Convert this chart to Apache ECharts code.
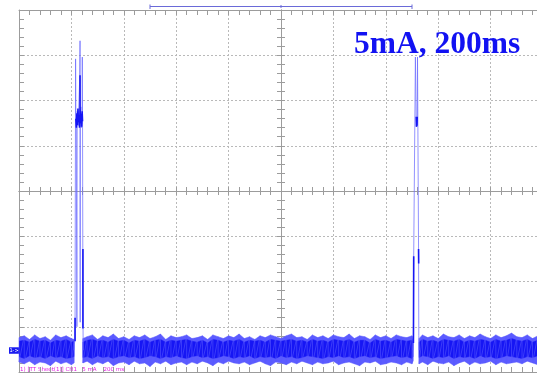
<!DOCTYPE html>
<html><head><meta charset="utf-8">
<script src="https://cdn.jsdelivr.net/npm/echarts@6/dist/echarts.min.js"></script>
<style>html,body{margin:0;padding:0;background:#fff}#c{width:537px;height:373px}</style>
</head><body><div id="c"></div>
<script>
// ---- axes (oscilloscope screen: 200 ms/div, 5 mA/div, centre = trigger) ----
const timeMin = -1000, timeMax = 1000, timeStep = 200;      // ms
const currentMin = -20, currentMax = 20, currentStep = 5;   // mA
const channelOffset = -17.6;                                // mA, CH1 ground marker
const windowBar = [-500, 500];                              // ms, top window bar
const titleText = '5mA, 200ms';
const footerText = '1) [TT Sheet(1)] CH1   5 mA    200 ms';

// ---- baseline noise envelope (null = gap during pulse) ----
const noiseTime = [
  -1000,-980,-960,-940,-920,-900,-880,-860,-840,-820, -800,-790,
  -775,
  -756,-740,-720,-700,-680,-660,-640,-620,-600,-580,
  -560,-540,-520,-500,-480,-460,-440,-420,-400,-380,
  -360,-340,-320,-300,-280,-260,-240,-220,-200,-180,
  -160,-140,-120,-100,-80,-60,-40,-20,0,20,
  40,60,80,100,120,140,160,180,200,220,
  240,260,280,300,320,340,360,380,400,420,
  440,460,480,500,504,
  515,
  527,540,560,580,600,620,640,660,680,700,
  720,740,760,780,800,820,840,860,880,900,
  920,940,960,980,1000
];
const noiseOuterHigh = [
  -16.2,-16.0,-16.4,-15.9,-16.3,-16.1,-16.5,-15.9,-16.2,-16.0, -16.3,-16.4,
  null,
  -16.3,-16.1,-15.9,-16.4,-16.0,-16.2,-15.8,-16.3,-16.1,-16.4,
  -16.0,-16.2,-15.9,-16.3,-16.1,-15.8,-16.4,-16.0,-16.2,-16.1,
  -15.9,-16.3,-16.2,-16.0,-16.4,-15.9,-16.1,-16.3,-16.0,-16.2,
  -15.8,-16.3,-16.1,-16.4,-16.0,-16.2,-15.9,-16.1,-16.3,-16.0,
  -15.8,-16.2,-16.1,-16.4,-15.9,-16.2,-16.0,-16.3,-15.9,-16.1,
  -16.2,-15.8,-16.3,-16.0,-16.1,-16.4,-15.9,-16.2,-16.0,-16.3,
  -15.9,-16.1,-16.2,-16.0,-16.4,
  null,
  -16.3,-15.9,-16.2,-16.0,-16.3,-15.8,-16.1,-16.2,-15.9,-16.3,
  -16.0,-16.2,-15.8,-16.1,-16.3,-15.9,-16.2,-16.0,-15.7,-16.1,
  -16.2,-15.9,-16.3,-16.0,-16.2
];
const noiseInnerHigh = [
  -16.6,-16.5,-16.7,-16.4,-16.6,-16.5,-16.8,-16.5,-16.6,-16.4, -16.7,-16.6,
  null,
  -16.7,-16.5,-16.4,-16.6,-16.5,-16.7,-16.4,-16.6,-16.5,-16.8,
  -16.5,-16.6,-16.4,-16.7,-16.5,-16.4,-16.7,-16.5,-16.6,-16.5,
  -16.4,-16.6,-16.7,-16.5,-16.8,-16.4,-16.5,-16.7,-16.5,-16.6,
  -16.4,-16.7,-16.5,-16.6,-16.5,-16.7,-16.4,-16.5,-16.6,-16.5,
  -16.4,-16.6,-16.5,-16.7,-16.4,-16.6,-16.5,-16.7,-16.4,-16.5,
  -16.6,-16.4,-16.7,-16.5,-16.5,-16.8,-16.4,-16.6,-16.5,-16.7,
  -16.4,-16.5,-16.6,-16.5,-16.7,
  null,
  -16.7,-16.4,-16.6,-16.5,-16.7,-16.4,-16.5,-16.6,-16.4,-16.7,
  -16.5,-16.6,-16.4,-16.5,-16.7,-16.4,-16.6,-16.5,-16.3,-16.5,
  -16.6,-16.4,-16.7,-16.5,-16.6
];
const noiseInnerLow = [
  -18.3,-18.5,-18.2,-18.4,-18.3,-18.5,-18.2,-18.4,-18.3,-18.5, -18.4,-18.3,
  null,
  -18.4,-18.3,-18.5,-18.2,-18.4,-18.3,-18.5,-18.3,-18.2,-18.4,
  -18.3,-18.5,-18.4,-18.2,-18.3,-18.5,-18.3,-18.4,-18.2,-18.4,
  -18.5,-18.3,-18.2,-18.4,-18.3,-18.5,-18.4,-18.2,-18.3,-18.5,
  -18.3,-18.4,-18.2,-18.5,-18.3,-18.4,-18.3,-18.5,-18.2,-18.4,
  -18.3,-18.5,-18.4,-18.2,-18.3,-18.4,-18.5,-18.3,-18.4,-18.2,
  -18.4,-18.3,-18.5,-18.3,-18.2,-18.4,-18.3,-18.5,-18.4,-18.3,
  -18.2,-18.4,-18.3,-18.5,-18.3,
  null,
  -18.4,-18.2,-18.3,-18.5,-18.3,-18.4,-18.2,-18.5,-18.3,-18.4,
  -18.3,-18.5,-18.2,-18.4,-18.3,-18.5,-18.4,-18.2,-18.3,-18.4,
  -18.5,-18.3,-18.4,-18.2,-18.4
];
const noiseOuterLow = [
  -18.9,-19.1,-18.8,-19.2,-18.9,-19.0,-19.3,-18.8,-19.1,-18.9, -19.2,-19.0,
  null,
  -19.0,-18.8,-19.2,-18.9,-19.1,-18.8,-19.3,-19.0,-18.9,-19.2,
  -18.8,-19.1,-19.0,-19.4,-18.9,-19.1,-18.8,-19.2,-19.0,-18.9,
  -19.2,-18.9,-19.1,-18.8,-19.0,-19.3,-18.9,-19.1,-18.8,-19.0,
  -19.1,-18.9,-19.2,-19.0,-18.8,-19.1,-19.3,-18.9,-19.0,-19.2,
  -18.9,-19.1,-18.8,-19.0,-19.2,-18.9,-19.1,-19.0,-18.8,-19.2,
  -19.0,-18.9,-19.1,-19.3,-18.9,-19.0,-18.8,-19.2,-19.1,-18.9,
  -19.0,-19.2,-18.9,-19.1,-18.8,
  null,
  -19.1,-18.9,-19.2,-18.8,-19.0,-19.1,-18.9,-19.3,-19.0,-18.8,
  -19.2,-18.9,-19.1,-19.0,-18.8,-19.2,-18.9,-19.1,-19.0,-18.9,
  -19.1,-18.8,-19.0,-19.2,-18.9
];

// ---- pulse traces (fast, light trace) ----
const pulse1Time    = [-790,-787.5,-786,-784,-783,-781.5,-779,-778,-775,-772,-768,-767,-766.5,-766,-764,-762,-761,-760,-759,-758.4,-757.5,-756.5,-755.5,-755];
const pulse1Current = [-17.6,-16.6,-14.0,14.6,8.5,7.2,-15.0,8.8,7.2,9.0,12.8,16.6,-14.5,8.0,9.3,7.0,8.6,7.4,8.9,14.8,7.5,-6.4,-15.2,-17.6];
const pulse2Time    = [504,505.5,506.5,513,514,516,518,520,521,523,525,526,527];
const pulse2Current = [-17.6,-16.8,-7.2,14.8,14.8,8.0,7.1,8.2,14.8,14.8,-6.4,-16.0,-17.6];
// ---- dense (bright) parts of the pulses, null = break ----
const coreTime    = [-786,-786,null,-783,-781,-779,-777,-775,-773,-771,-769,-767,-765,-763,-761,-759,-757.5,null,-767,-767,null,-756,-756,null,
                     505.5,506.5,null,516,517,518,519,520,null,525,525.5];
const coreCurrent = [-16.6,-14.0,null,8.0,7.0,8.6,7.3,9.1,7.6,8.4,7.0,9.2,7.5,8.5,7.1,8.8,7.7,null,9.0,12.8,null,-6.4,-15.2,null,
                     -16.8,-7.2,null,8.2,7.1,8.0,7.2,8.2,null,-6.4,-8.0];

const zip = (a, b) => a.map((t, i) => [t, b[i] == null || t == null ? null : b[i]]);
// trace that swings between the two noise envelopes at each sample time
const swing = (hi, lo) => noiseTime.flatMap((t, i) => hi[i] == null ? [[t, null]] : [[t, hi[i]], [t, lo[i]]]);

const GRAY = '#9c9c9c';
const grid = { left: 19, top: 10, width: 524, height: 362, outerBoundsMode: 'none', containLabel: false };

function borderAxis(isX, pos, withSplit) {
  return {
    type: 'value', position: pos,
    min: isX ? timeMin : currentMin, max: isX ? timeMax : currentMax,
    interval: isX ? timeStep : currentStep,
    axisLine: { show: true, onZero: false, lineStyle: { color: GRAY, width: 1 } },
    axisTick: { show: true, inside: true, length: 5, lineStyle: { color: GRAY } },
    minorTick: { show: true, splitNumber: 5, length: 5, lineStyle: { color: GRAY } },
    axisLabel: { show: false },
    splitLine: { show: withSplit, lineStyle: { color: '#b9b9b9', type: [2, 2], width: 1 } },
    minorSplitLine: { show: false }
  };
}
function centerAxis(isX, pos, inside) {
  return {
    type: 'value', position: pos,
    min: isX ? timeMin : currentMin, max: isX ? timeMax : currentMax,
    interval: isX ? timeStep : currentStep,
    axisLine: { show: true, onZero: true, onZeroAxisIndex: 0, lineStyle: { color: GRAY, width: 1 } },
    axisTick: { show: true, inside: inside, length: 4, lineStyle: { color: GRAY } },
    minorTick: { show: true, splitNumber: 5, length: 4, lineStyle: { color: GRAY } },
    axisLabel: { show: false },
    splitLine: { show: false }
  };
}

// band between two envelopes, drawn once through the grid's coordinate system
function bandSeries(name, hiArr, loArr, color) {
  return {
    type: 'custom', name: name, silent: true, clip: true,
    data: noiseTime.map((t, i) => [t, hiArr[i] == null ? null : hiArr[i]]),
    encode: { x: 0, y: 1 },
    renderItem: function (params, api) {
      if (params.dataIndex !== 0) return null;
      const children = [];
      let seg = [];
      const flush = () => {
        if (seg.length > 1) {
          const pts = seg.map(i => api.coord([noiseTime[i], hiArr[i]]))
            .concat(seg.slice().reverse().map(i => api.coord([noiseTime[i], loArr[i]])));
          children.push({ type: 'polygon', shape: { points: pts }, style: { fill: color, stroke: color, lineWidth: 0.5 } });
        }
        seg = [];
      };
      for (let i = 0; i < noiseTime.length; i++) {
        if (hiArr[i] == null || loArr[i] == null) flush(); else seg.push(i);
      }
      flush();
      return { type: 'group', children: children };
    }
  };
}

const chart = echarts.init(document.getElementById('c'), null, { renderer: 'canvas' });
const OUTER = '#5c5cff', INNER = '#1616f4';
chart.setOption({
  backgroundColor: '#ffffff',
  animation: false,
  grid: grid,
  title: {
    text: titleText, left: 349, top: 24,
    textStyle: { fontFamily: "'Times New Roman','Liberation Serif',serif", fontWeight: 'bold', fontSize: 31.5, color: '#1212f2' }
  },
  xAxis: [borderAxis(true, 'bottom', true), borderAxis(true, 'top', false), centerAxis(true, 'bottom', false), centerAxis(true, 'bottom', true)],
  yAxis: [borderAxis(false, 'left', true), borderAxis(false, 'right', false), centerAxis(false, 'left', false), centerAxis(false, 'left', true)],
  series: [
    bandSeries('outer', noiseOuterHigh, noiseOuterLow, OUTER),
    { type: 'line', name: 'noiseTrace', symbol: 'none', silent: true, connectNulls: false, data: swing(noiseOuterHigh, noiseOuterLow),
      lineStyle: { width: 0.7, color: 'rgba(90,90,255,0.8)' } },
    bandSeries('inner', noiseInnerHigh, noiseInnerLow, INNER),
    { type: 'line', name: 'pulse1', symbol: 'none', silent: true, data: zip(pulse1Time, pulse1Current), lineStyle: { width: 1, color: 'rgba(110,110,255,0.75)' } },
    { type: 'line', name: 'pulse2', symbol: 'none', silent: true, data: zip(pulse2Time, pulse2Current), lineStyle: { width: 1, color: 'rgba(110,110,255,0.75)' } },
    { type: 'line', name: 'core', symbol: 'none', silent: true, connectNulls: false, data: zip(coreTime, coreCurrent), lineStyle: { width: 1.6, color: INNER } }
  ]
});

// decorations positioned through the chart's own coordinate system
const px = (t, v) => chart.convertToPixel({ gridIndex: 0 }, [t, v]);
const l = px(windowBar[0], currentMax), r = px(windowBar[1], currentMax), c = px(0, currentMax);
const barY = l[1] - 3.5;
const base = px(timeMin, channelOffset);
chart.setOption({
  graphic: [
    { type: 'line', shape: { x1: l[0], y1: barY, x2: r[0], y2: barY }, style: { stroke: '#6a6ad8', lineWidth: 1 } },
    { type: 'line', shape: { x1: l[0], y1: barY - 2, x2: l[0], y2: barY + 2.5 }, style: { stroke: '#6a6ad8', lineWidth: 1 } },
    { type: 'line', shape: { x1: r[0], y1: barY - 2, x2: r[0], y2: barY + 2.5 }, style: { stroke: '#6a6ad8', lineWidth: 1 } },
    { type: 'line', shape: { x1: c[0], y1: barY - 1.5, x2: c[0], y2: barY + 1.5 }, style: { stroke: '#6a6ad8', lineWidth: 1 } },
    { type: 'rect', shape: { x: base[0] - 10, y: base[1] - 3, width: 10, height: 6.5 }, style: { fill: '#1a1af0' } },
    { type: 'text', x: base[0] - 5, y: base[1] + 0.3, style: { text: '1->', fill: '#ffffff', fontSize: 5, fontFamily: 'DejaVu Sans', align: 'center', verticalAlign: 'middle' } },
    { type: 'text', x: base[0] + 1, y: base[1] + 19, style: { text: footerText, fill: '#e01ee0', fontSize: 5.5, fontFamily: 'DejaVu Sans', align: 'left', verticalAlign: 'middle' } }
  ]
});
</script>
</body></html>
